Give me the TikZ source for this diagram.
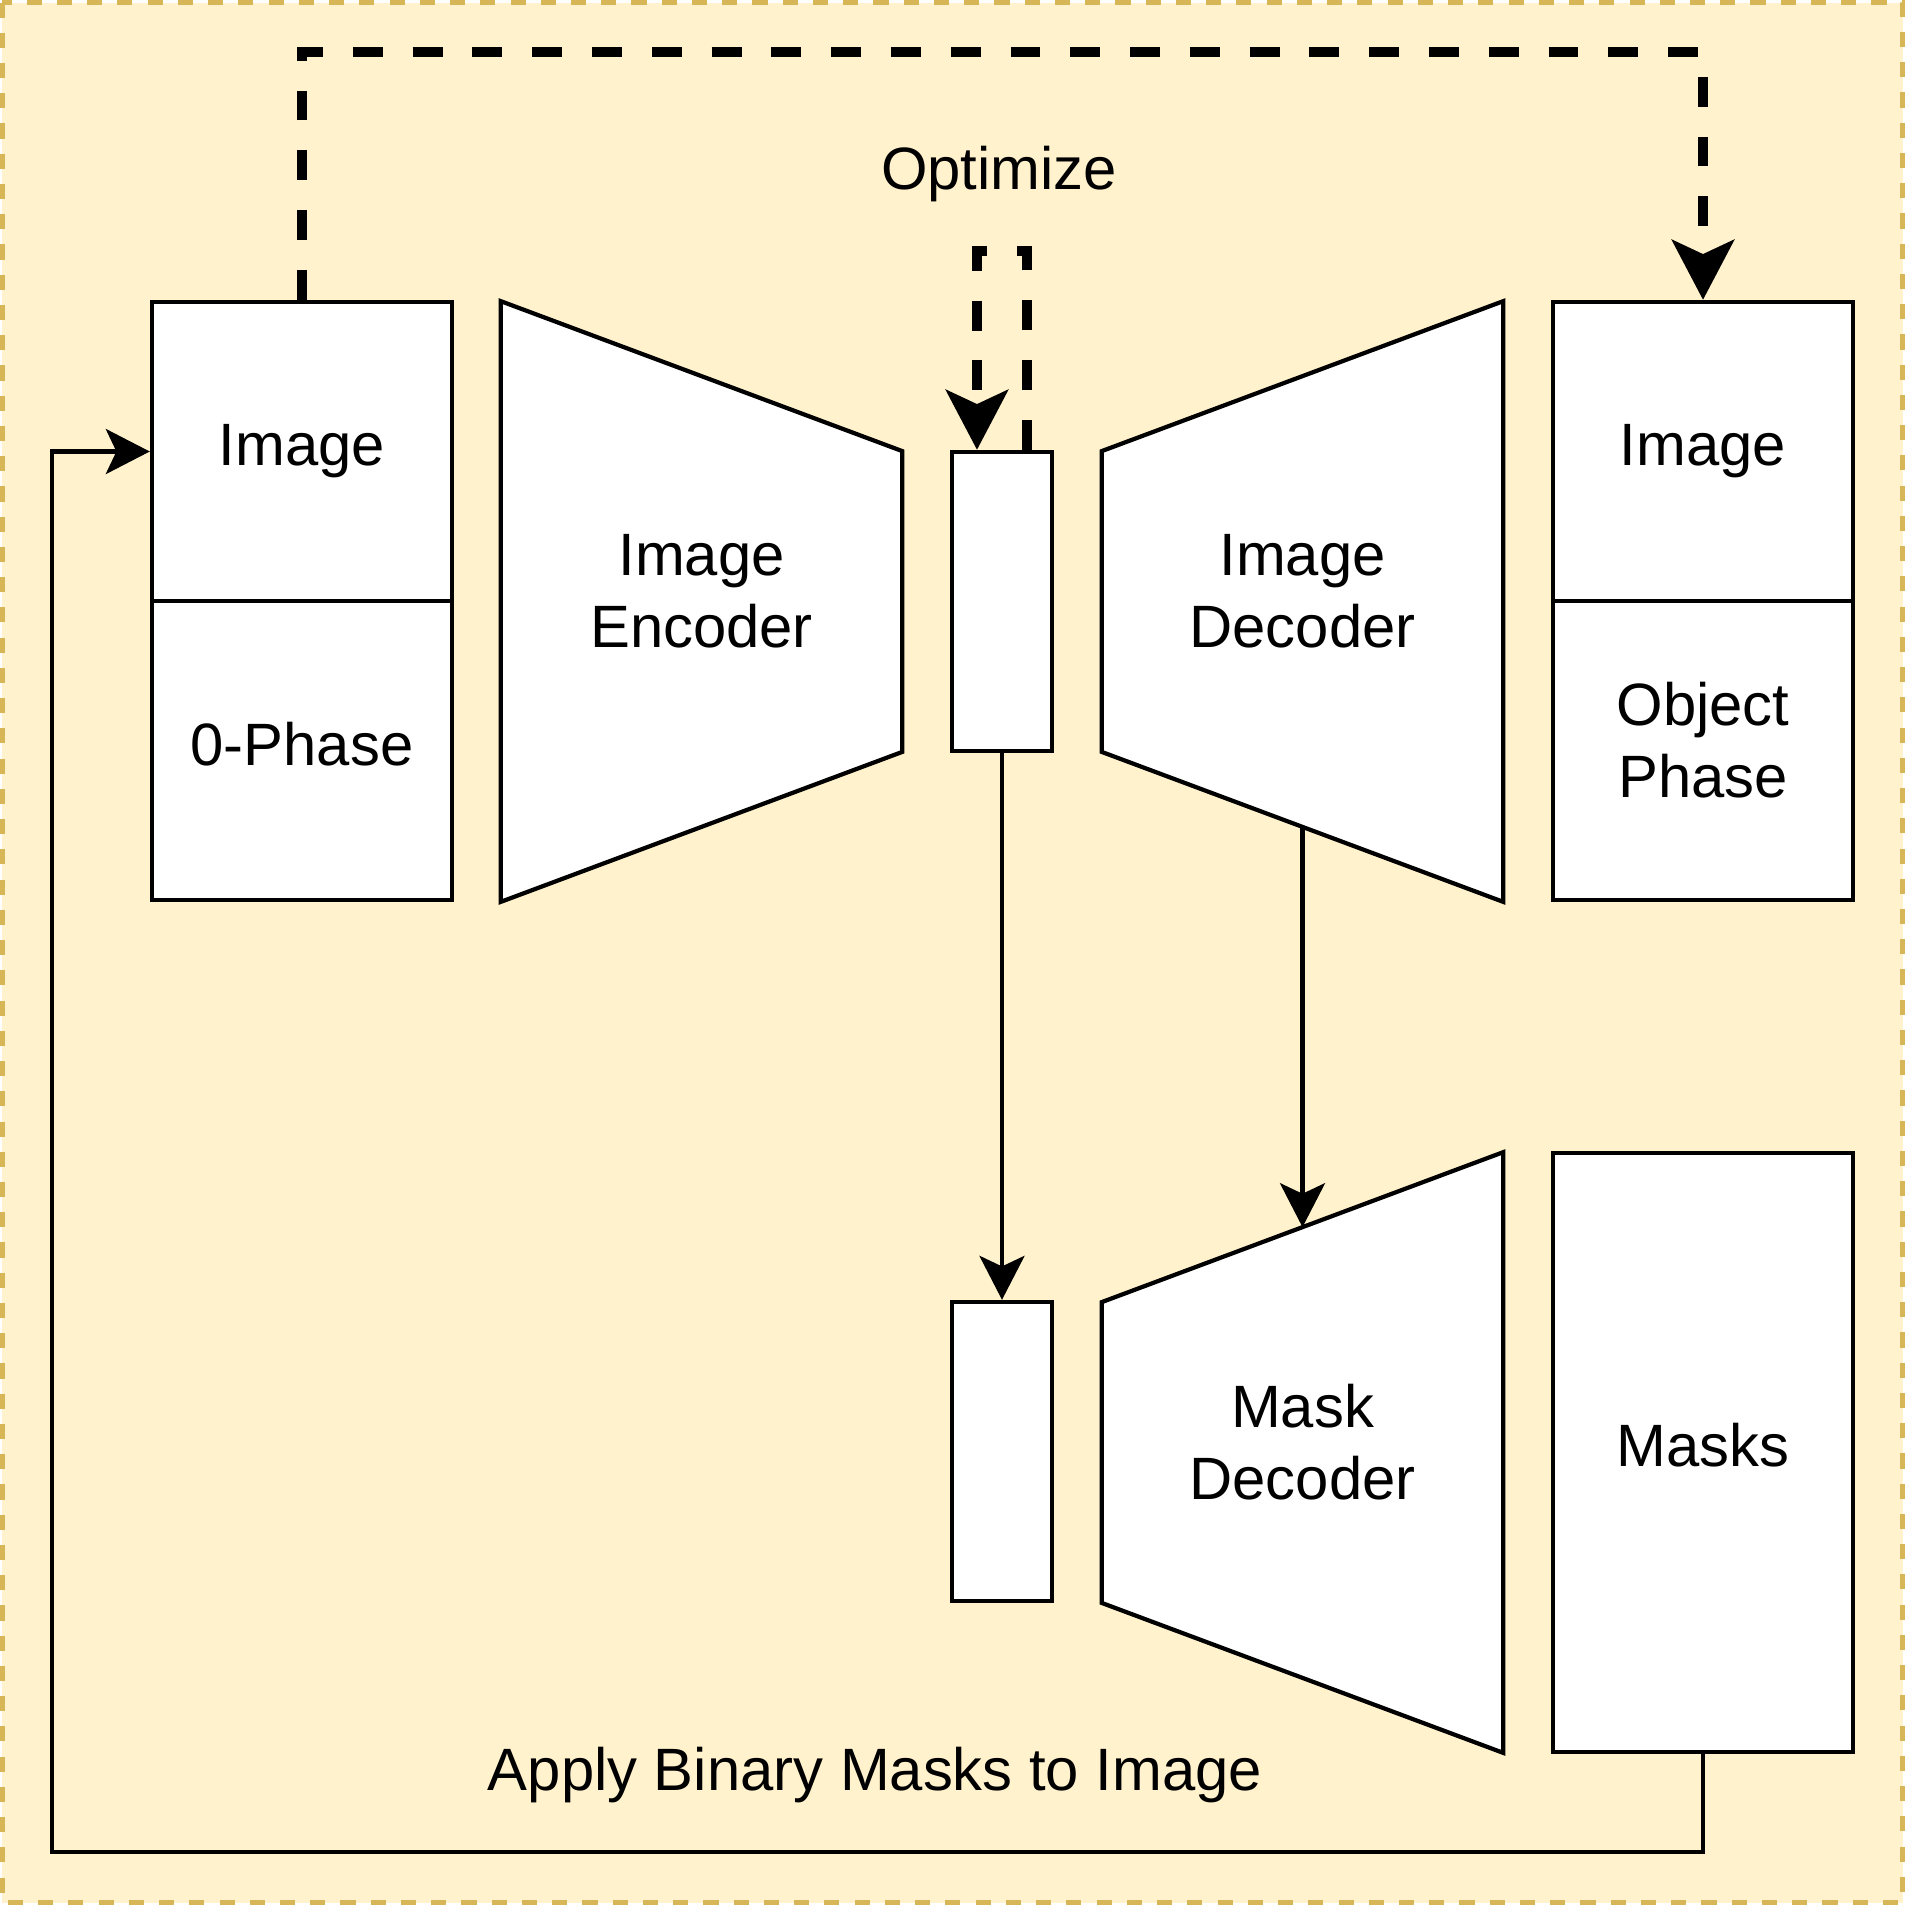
\documentclass[tikz,border=0pt]{standalone}
\usepackage{fontspec}
\setmainfont{Liberation Sans}
\usetikzlibrary{arrows.meta, positioning, calc, backgrounds}
\definecolor{panelfill}{HTML}{FFF2CC}
\definecolor{panelline}{HTML}{D6B656}
\tikzset{
  box/.style={rectangle,draw,fill=white,line width=1.2pt,align=center,minimum width=3cm,minimum height=2.99cm,inner sep=0pt},
  tallbox/.style={box,minimum height=5.99cm},
  latent/.style={rectangle,draw,fill=white,line width=1.2pt,minimum width=1cm,minimum height=2.99cm,inner sep=0pt},
  trapbody/.style={rectangle,align=center,minimum width=4cm,minimum height=5.99cm,inner sep=0pt},
  trap/.style={draw,fill=white,line width=1.2pt},
  line/.style={line width=1.2pt,-{Stealth[length=12.5pt,width=12.8pt,inset=3pt]}},
  dashline/.style={line width=2.85pt,dash pattern=on 8.5pt off 8.5pt,-{Stealth[length=17pt,width=17.6pt,inset=4pt]}},
  every node/.style={font=\fontsize{17}{20.4}\selectfont,execute at begin node=\strut,execute at end node=\strut}
}

\begin{document}
\begin{tikzpicture}[x=0.01cm,y=-0.01cm]
\useasboundingbox (0,0) rectangle (1905,1905);
\begin{scope}[on background layer]
\draw[panelline,fill=panelfill,line width=1.4pt,dash pattern=on 4.3pt off 4.3pt] (2.5,2.5) rectangle (1902.5,1902.5);
\end{scope}

% input side
\node[box] (imgin) at (302,451.5) {Image};
\node[box, below=-1.2pt of imgin] (phin) {0-Phase};
\node[trapbody] (enc) at (701.5,601.5) {Image\\Encoder};
\node[latent] (lat) at (1002,601.5) {};
\node[trapbody] (dec) at (1302.5,601.5) {Image\\Decoder};
\node[box] (imgout) at (1703,451.5) {Image};
\node[box, below=-1.2pt of imgout] (phout) {Object\\Phase};

% mask branch
\node[latent] (latb) at (1002,1451.5) {};
\node[trapbody] (mdec) at (1302.5,1452.5) {Mask\\Decoder};
\node[tallbox] (masks) at (1703,1452.5) {Masks};

\node (opt) at (999,175) {Optimize};
\node (apply) at (875,1776) {Apply Binary Masks to Image};

% trapezoid outlines
\begin{scope}[on background layer]
\draw[trap] (enc.north west) -- ($(enc.north east)+(0,150)$) -- ($(enc.south east)+(0,-150)$) -- (enc.south west) -- cycle;
\draw[trap] ($(dec.north west)+(0,150)$) -- (dec.north east) -- (dec.south east) -- coordinate[pos=0.5] (decout) ($(dec.south west)+(0,-150)$) -- cycle;
\draw[trap] ($(mdec.north west)+(0,150)$) -- coordinate[pos=0.5] (mdecin) (mdec.north east) -- (mdec.south east) -- ($(mdec.south west)+(0,-150)$) -- cycle;
\end{scope}

% connectors
\draw[dashline] (imgin.north) -- ++(0,-248) -| (imgout.north);
\draw[dashline] ([xshift=0.25cm]lat.north) -- ++(0,-199) -| ([xshift=-0.25cm]lat.north);
\draw[line] (lat.south) -- (latb.north);
\draw[line] (decout) -- (mdecin);
\draw[line] (masks.south) -- ++(0,98) -| ([xshift=-0.98cm]imgin.west) -- (imgin.west);
\end{tikzpicture}
\end{document}
